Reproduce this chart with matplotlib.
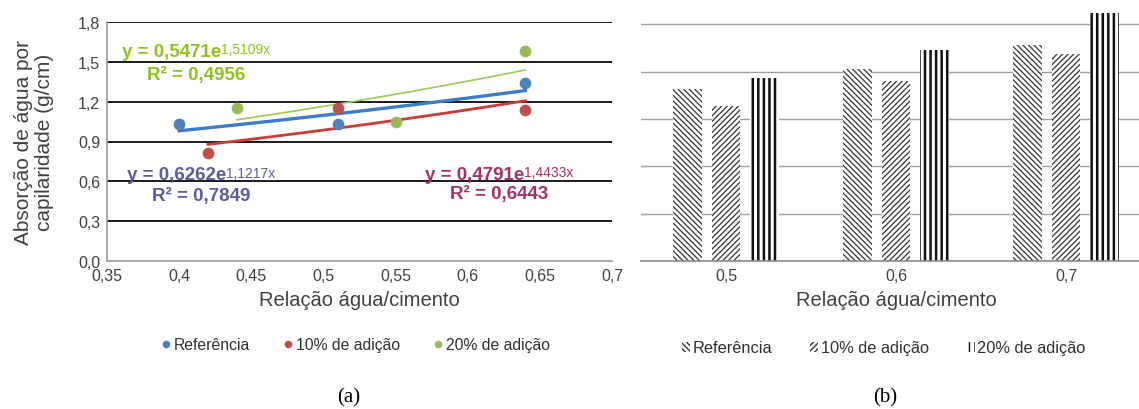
import matplotlib
matplotlib.use('Agg')
import matplotlib.pyplot as plt
import numpy as np
from matplotlib.patches import Patch
from matplotlib.lines import Line2D

plt.rcParams['font.family'] = ['Liberation Sans', 'DejaVu Sans']

# ---- dados (a): absorção x relação a/c ----
series = ['Referência', '10% de adição', '20% de adição']
x_ref = [0.40, 0.51, 0.64]
y_ref = [1.03, 1.03, 1.34]
x_10 = [0.42, 0.51, 0.64]
y_10 = [0.81, 1.15, 1.14]
x_20 = [0.44, 0.55, 0.64]
y_20 = [1.15, 1.05, 1.58]

# coeficientes das linhas de tendência exponenciais y = a*e^(b*x)
coef_ref = (0.6262, 1.1217, 0.7849)
coef_10 = (0.4791, 1.4433, 0.6443)
coef_20 = (0.5471, 1.5109, 0.4956)

# ---- dados (b): barras ----
categorias = ['0,5', '0,6', '0,7']
barras_ref = [1.09, 1.22, 1.37]
barras_10 = [0.98, 1.14, 1.31]
barras_20 = [1.16, 1.34, 1.57]

cor_pontos = ['#4F81BD', '#C0504D', '#9BBB59']
cor_linhas = ['#3C7CC8', '#D03A36', '#9CCB55']
cor_texto = ['#5B5B9C', '#A2316A', '#8DC21F']

fig = plt.figure(figsize=(11.39, 4.10), dpi=100)

# ================= (a) =================
ax = fig.add_axes([107 / 1139, 1 - 262 / 410, 505 / 1139, 239 / 410])
ax.set_xlim(0.35, 0.70)
ax.set_ylim(0, 1.8)
ax.set_yticks(np.arange(0, 1.81, 0.3))
ax.set_yticklabels([f'{v:.1f}'.replace('.', ',') for v in np.arange(0, 1.81, 0.3)])
xt = [0.35, 0.4, 0.45, 0.5, 0.55, 0.6, 0.65, 0.7]
ax.set_xticks(xt)
ax.set_xticklabels([f'{v:g}'.replace('.', ',') for v in xt])
ax.tick_params(length=0, labelsize=11.5, colors='#404040', pad=5)
for v in np.arange(0.3, 1.81, 0.3):
    ax.axhline(v, color='#1a1a1a', lw=1.4, zorder=0)
for s in ['top', 'right']:
    ax.spines[s].set_visible(False)
for s in ['left', 'bottom']:
    ax.spines[s].set_color('#999999')
    ax.spines[s].set_linewidth(1.2)

dados = [(x_ref, y_ref, coef_ref), (x_10, y_10, coef_10), (x_20, y_20, coef_20)]
larguras = [2.4, 2.0, 1.2]
for i, (xs, ys, (a, b, r2)) in enumerate(dados):
    ax.scatter(xs, ys, s=55, color=cor_pontos[i], zorder=4, label=series[i])
    xx = np.linspace(min(xs), max(xs), 50)
    ax.plot(xx, a * np.exp(b * xx), color=cor_linhas[i], lw=larguras[i], zorder=3)

# equações
pos_eq = [((0.3639, 0.648), (0.4151, 0.497)),
          ((0.5704, 0.655), (0.622, 0.512)),
          ((0.3604, 1.581), (0.4117, 1.408))]
for i, (xs, ys, (a, b, r2)) in enumerate(dados):
    (x1, y1), (x2, y2) = pos_eq[i]
    t = ax.text(x1, y1, f'y = {a:.4f}e'.replace('.', ','), color=cor_texto[i],
                fontsize=13.5, fontweight='bold', ha='left', va='center', zorder=5)
    ax.annotate(f'{b:.4f}x'.replace('.', ','), xy=(1, 1.02), xycoords=t,
                color=cor_texto[i], fontsize=10, ha='left', va='top', zorder=5)
    ax.text(x2, y2, f'R² = {r2:.4f}'.replace('.', ','), color=cor_texto[i],
            fontsize=13.5, fontweight='bold', ha='center', va='center', zorder=5)

ax.set_xlabel('Relação água/cimento', fontsize=14.5, color='#404040', labelpad=5)
ax.set_ylabel('Absorção de água por\ncapilaridade (g/cm)', fontsize=15,
              color='#404040', labelpad=17, linespacing=1.15)

handles_a = [Line2D([], [], marker='o', ls='', color=c, markersize=4.5) for c in cor_pontos]
fig.legend(handles_a, series, loc='center', bbox_to_anchor=(354 / 1139, 1 - 346 / 410),
           ncol=3, frameon=False, fontsize=11.3, handletextpad=0.0, handlelength=1.0,
           columnspacing=1.9, labelcolor='#303030')

# ================= (b) =================
ax2 = fig.add_axes([641 / 1139, 1 - 262 / 410, 510 / 1139, 252.3 / 410])
ax2.set_xlim(-0.5, 2.5)
ax2.set_ylim(0, 1.6)
ax2.set_yticks([])
idx = np.arange(len(categorias))
ax2.set_xticks(idx)
ax2.set_xticklabels(categorias)
ax2.tick_params(length=0, labelsize=11.5, colors='#404040', pad=5)
for v in np.arange(0.3, 1.51, 0.3):
    ax2.axhline(v, color='#a0a0a0', lw=1.0, zorder=0)
for s in ['top', 'right', 'left']:
    ax2.spines[s].set_visible(False)
ax2.spines['bottom'].set_color('#8a8a8a')
ax2.spines['bottom'].set_linewidth(1.2)

w = 0.17
desl = 0.225
hatches = ['\\\\\\\\\\\\', '//////', '|||']
hlw = [0.9, 0.9, 1.8]
hcor = ['#333333', '#333333', '#111111']
valores = [barras_ref, barras_10, barras_20]
for j in range(3):
    with plt.rc_context({'hatch.linewidth': hlw[j]}):
        bars = ax2.bar(idx + (j - 1) * desl, valores[j], width=w, color='white',
                       edgecolor=hcor[j], hatch=hatches[j], linewidth=0, zorder=2)
        for bb in bars:
            if hasattr(bb, 'set_hatch_linewidth'):
                bb.set_hatch_linewidth(hlw[j])
ax2.set_xlabel('Relação água/cimento', fontsize=14.5, color='#404040', labelpad=5)

handles_b = []
for j in range(3):
    with plt.rc_context({'hatch.linewidth': hlw[j]}):
        p = Patch(facecolor='white', edgecolor=hcor[j], hatch=hatches[j], linewidth=0)
        if hasattr(p, 'set_hatch_linewidth'):
            p.set_hatch_linewidth(hlw[j])
        handles_b.append(p)
fig.legend(handles_b, series, loc='center', bbox_to_anchor=(884 / 1139, 1 - 349 / 410),
           ncol=3, frameon=False, fontsize=11.8, handletextpad=0.15, columnspacing=2.3,
           handlelength=0.5, handleheight=0.6, labelcolor='#303030')

# legendas das figuras
fig.text(349 / 1139, 1 - 398 / 410, '(a)', fontsize=15, family='Liberation Serif',
         ha='center', va='center')
fig.text(885 / 1139, 1 - 398 / 410, '(b)', fontsize=15, family='Liberation Serif',
         ha='center', va='center')

fig.savefig('out.png', dpi=100)
